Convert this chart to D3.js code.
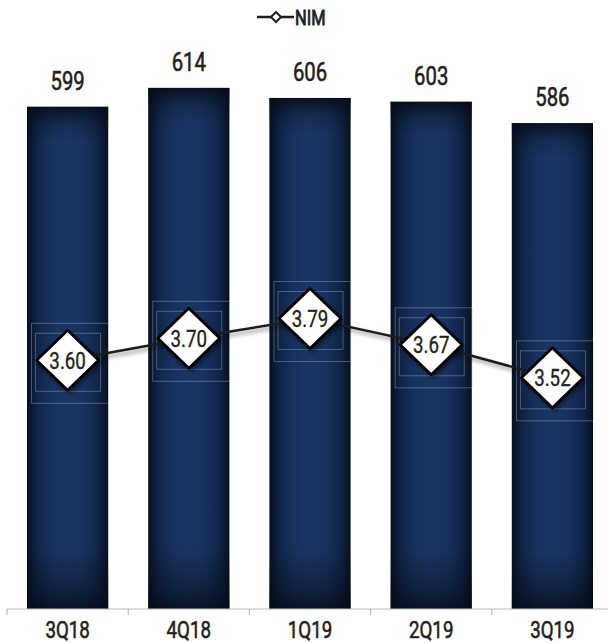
<!DOCTYPE html>
<html>
<head>
<meta charset="utf-8">
<script src="https://cdn.jsdelivr.net/npm/d3@7/dist/d3.min.js"></script>
<style>
  html, body { margin: 0; padding: 0; background: #fff; }
  svg { display: block; }
  text { font-family: "Roboto", "Liberation Sans", sans-serif; }
</style>
</head>
<body>
<div id="chart"></div>
<script>
// Quarterly net interest income (bars) and net interest margin (line)
const quarters = ["3Q18", "4Q18", "1Q19", "2Q19", "3Q19"];
const income = [599, 614, 606, 603, 586];
const nim = [3.60, 3.70, 3.79, 3.67, 3.52];
const nimLabels = ["3.60", "3.70", "3.79", "3.67", "3.52"];
const legendLabel = "NIM";

const W = 608, H = 643;
const SX = 0.78; // horizontal squeeze for a condensed look
const svg = d3.select("#chart").append("svg").attr("width", W).attr("height", H);

// condensed text helper: places text at (tx, ty), squeezed horizontally
function ctext(parent, tx, ty, str, size, anchor, weight, thicken) {
  const t = parent.append("text")
    .attr("transform", `translate(${tx},${ty}) scale(${SX},1)`)
    .attr("text-anchor", anchor || "middle")
    .attr("font-size", size)
    .attr("font-weight", weight || 400)
    .attr("fill", "#222")
    .text(str);
  if (thicken) t.attr("stroke", "#222").attr("stroke-width", thicken);
  return t;
}

const x = d3.scaleBand().domain(quarters).range([7, 613]).paddingInner(0.33).paddingOuter(0.165);
const y = d3.scaleLinear().domain([200, 660]).range([609, 30]);
const y2 = d3.scaleLinear().domain([2.47, 5.1]).range([609, 30]);

const defs = svg.append("defs");
const hg = defs.append("linearGradient").attr("id", "barH").attr("x1", 0).attr("x2", 1).attr("y1", 0).attr("y2", 0);
[[0, "#07101e"], [0.12, "#0f2346"], [0.3, "#18325f"], [0.5, "#1b3666"], [0.7, "#18325f"], [0.88, "#0f2346"], [1, "#07101e"]]
  .forEach(([o, c]) => hg.append("stop").attr("offset", o).attr("stop-color", c));
const vg = defs.append("linearGradient").attr("id", "barV").attr("x1", 0).attr("x2", 0).attr("y1", 0).attr("y2", 1);
[[0, "#050b16", 0.85], [0.035, "#050b16", 0.25], [0.07, "#050b16", 0], [0.88, "#050b16", 0], [0.96, "#050b16", 0.45], [1, "#050b16", 0.8]]
  .forEach(([o, c, a]) => vg.append("stop").attr("offset", o).attr("stop-color", c).attr("stop-opacity", a));
const sh = defs.append("filter").attr("id", "shadow").attr("x", "-30%").attr("y", "-30%").attr("width", "160%").attr("height", "160%");
sh.append("feDropShadow").attr("dx", 2).attr("dy", 3).attr("stdDeviation", 2).attr("flood-color", "#000").attr("flood-opacity", 0.45);

// Bars
const bars = svg.append("g");
quarters.forEach((q, i) => {
  const bx = x(q), bw = x.bandwidth(), by = y(income[i]), bh = y(200) - y(income[i]);
  bars.append("rect").attr("x", bx).attr("y", by).attr("width", bw).attr("height", bh).attr("fill", "url(#barH)");
  bars.append("rect").attr("x", bx).attr("y", by).attr("width", bw).attr("height", bh).attr("fill", "url(#barV)");
  ctext(bars, bx + bw / 2, by - 17, income[i], 26, "middle", 400, 0.6);
});

// Axis
const axisY = 609;
svg.append("line").attr("x1", 7).attr("x2", W).attr("y1", axisY).attr("y2", axisY).attr("stroke", "#bcbcbc").attr("stroke-width", 1.2);
const step = x.step();
d3.range(quarters.length + 1).forEach(k => {
  const tx = 7 + k * step;
  svg.append("line").attr("x1", tx).attr("x2", tx).attr("y1", axisY).attr("y2", axisY + 6).attr("stroke", "#bcbcbc").attr("stroke-width", 1.2);
});
quarters.forEach(q => ctext(svg, x(q) + x.bandwidth() / 2, 638, q, 24, "middle", 400, 0.6));

// Faint label frames around each marker
const frames = svg.append("g").attr("fill", "none").attr("stroke", "#b8c2d4").attr("stroke-opacity", 0.45).attr("stroke-width", 0.8);
quarters.forEach((q, i) => {
  const cx = x(q) + x.bandwidth() / 2, cy = y2(nim[i]);
  frames.append("rect").attr("x", cx - 36).attr("y", cy - 37).attr("width", 77).attr("height", 80);
  frames.append("rect").attr("x", cx - 32).attr("y", cy - 27).attr("width", 65).attr("height", 58);
});

// NIM line
const pts = quarters.map((q, i) => [x(q) + x.bandwidth() / 2, y2(nim[i])]);
svg.append("path").attr("d", d3.line()(pts)).attr("fill", "none").attr("stroke", "#1e1e1e")
  .attr("stroke-width", 2.5).attr("filter", "url(#shadow)");

// Diamond markers with value labels
const dm = svg.append("g");
pts.forEach(([cx, cy], i) => {
  dm.append("path").attr("d", `M${cx},${cy - 30}L${cx + 31},${cy}L${cx},${cy + 30}L${cx - 31},${cy}Z`)
    .attr("fill", "#fff").attr("stroke", "#000").attr("stroke-width", 2.8).attr("stroke-linejoin", "round")
    .attr("filter", "url(#shadow)");
  ctext(dm, cx, cy + 8.5, nimLabels[i], 24, "middle", 400, 0.35);
});

// Legend
const lg = svg.append("g");
lg.append("line").attr("x1", 257).attr("x2", 294).attr("y1", 17).attr("y2", 17).attr("stroke", "#1e1e1e").attr("stroke-width", 2.5);
lg.append("path").attr("d", "M276,12L281,17L276,22L271,17Z").attr("fill", "#fff").attr("stroke", "#1e1e1e").attr("stroke-width", 2);
ctext(lg, 295, 25, legendLabel, 21, "start", 400, 0.9);
</script>
</body>
</html>
